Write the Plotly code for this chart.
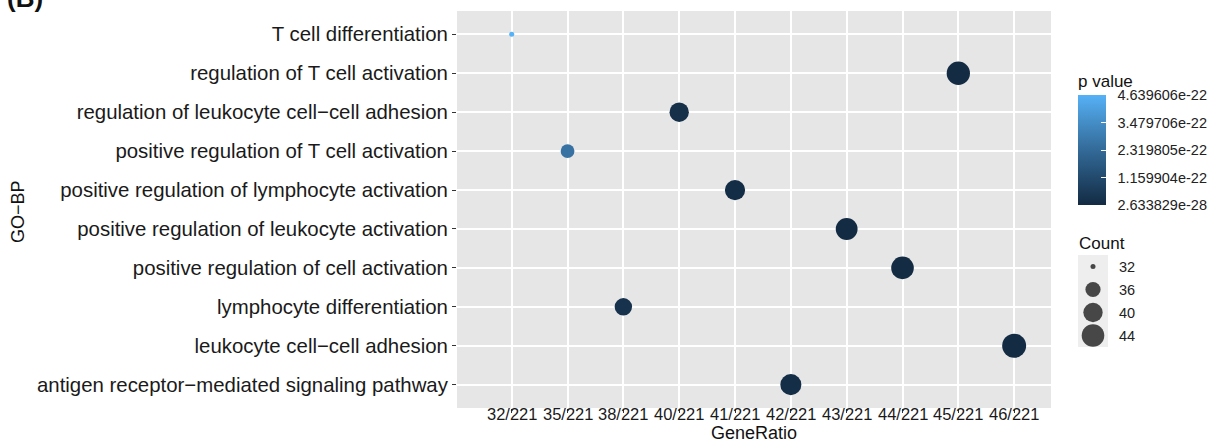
import numpy as np
import plotly.graph_objects as go

# GO biological-process enrichment results
terms = [
    "T cell differentiation",
    "regulation of T cell activation",
    "regulation of leukocyte cell\u2212cell adhesion",
    "positive regulation of T cell activation",
    "positive regulation of lymphocyte activation",
    "positive regulation of leukocyte activation",
    "positive regulation of cell activation",
    "lymphocyte differentiation",
    "leukocyte cell\u2212cell adhesion",
    "antigen receptor\u2212mediated signaling pathway",
]
gene_ratio = ["32/221", "45/221", "40/221", "35/221", "41/221",
              "43/221", "44/221", "38/221", "46/221", "42/221"]
counts = [32, 45, 40, 35, 41, 43, 44, 38, 46, 42]
p_values = [4.639606e-22, 5.0e-27, 2.0e-23, 2.6e-22, 8.0e-24,
            3.0e-25, 2.0e-26, 2.5e-23, 2.633829e-28, 1.2e-23]

ratio_order = ["32/221", "35/221", "38/221", "40/221", "41/221",
               "42/221", "43/221", "44/221", "45/221", "46/221"]

legend_counts = [32, 36, 40, 44]
cbar_ticks = [2.633829e-28, 1.159904e-22, 2.319805e-22, 3.479706e-22, 4.639606e-22]
cbar_labels = ["2.633829e-28", "1.159904e-22", "2.319805e-22", "3.479706e-22", "4.639606e-22"]

W, H = 1230, 443
FONT = "Liberation Sans, Arial, sans-serif"
PAD = "\u00a0\u00a0"

# ggplot-like default gradient (Lab interpolation approximated with stops)
colorscale = [
    [0.0, "#132B43"], [0.25, "#224A6D"], [0.5, "#336A98"],
    [0.75, "#448DC6"], [1.0, "#56B1F7"],
]


def dot_size(c):
    # area-style size scale between the smallest and largest count
    c = np.asarray(c, dtype=float)
    lo, hi = min(counts), max(counts)
    return 5 + 19 * np.sqrt((c - lo) / (hi - lo))


# panel geometry in pixels
px_l, px_r, px_t, px_b = 457, 1051, 11, 408

fig = go.Figure()

fig.add_trace(go.Scatter(
    x=gene_ratio, y=terms, mode="markers",
    marker=dict(
        size=dot_size(counts), color=p_values, colorscale=colorscale,
        cmin=min(p_values), cmax=max(p_values), line=dict(width=0), opacity=1,
        colorbar=dict(
            title=dict(text="p value", side="top",
                       font=dict(family=FONT, size=17, color="#111")),
            x=1078 / W, xanchor="left", xpad=0,
            y=1 - 138 / H, yanchor="middle", ypad=0,
            len=134, lenmode="pixels", thickness=28, thicknessmode="pixels",
            outlinewidth=0, tickmode="array", tickvals=cbar_ticks,
            ticktext=[PAD + t for t in cbar_labels],
            ticks="inside", ticklen=5, tickcolor="white", tickwidth=1,
            tickfont=dict(family=FONT, size=14.5, color="#222"),
        ),
    ),
    showlegend=False, hoverinfo="x+y",
))

# size key for Count
fig.add_trace(go.Scatter(
    x=[0] * len(legend_counts), y=[str(c) for c in legend_counts],
    xaxis="x2", yaxis="y2", mode="markers",
    marker=dict(size=dot_size(legend_counts), color="black", line=dict(width=0)),
    showlegend=False, hoverinfo="skip",
))

# GeneRatio tick labels, set just under the tick marks
xtick_labels = [
    dict(text=r, x=r, xref="x", y=1 - 414 / H, yref="paper",
         xanchor="center", yanchor="middle", showarrow=False,
         font=dict(family=FONT, size=16.5, color="#1a1a1a"))
    for r in ratio_order
]

fig.update_layout(
    width=W, height=H,
    margin=dict(l=0, r=0, t=0, b=0),
    paper_bgcolor="white", plot_bgcolor="#E6E6E6",
    font=dict(family=FONT, color="#111"),
    xaxis=dict(
        domain=[px_l / W, px_r / W], anchor="y",
        type="category", categoryorder="array", categoryarray=ratio_order,
        range=[-0.98, 9.66], showgrid=True, gridcolor="white", gridwidth=1.6,
        zeroline=False, showline=False, ticks="outside", ticklen=4,
        tickcolor="#333", tickwidth=1.2, showticklabels=False, automargin=False,
    ),
    yaxis=dict(
        domain=[1 - px_b / H, 1 - px_t / H], anchor="x",
        type="category", categoryorder="array", categoryarray=terms,
        range=[9.6, -0.6], showgrid=True, gridcolor="white", gridwidth=1.6,
        zeroline=False, showline=False, ticks="outside", ticklen=4,
        tickcolor="#333", tickwidth=1.2,
        tickfont=dict(family=FONT, size=20.4, color="#1a1a1a"), automargin=False,
    ),
    xaxis2=dict(
        domain=[1078 / W, 1108 / W], anchor="y2", range=[-1, 1],
        showgrid=False, zeroline=False, showticklabels=False, showline=False,
    ),
    yaxis2=dict(
        domain=[1 - 347 / H, 1 - 255 / H], anchor="x2", side="right",
        type="category", categoryorder="array",
        categoryarray=[str(c) for c in legend_counts], range=[3.5, -0.5],
        showgrid=False, zeroline=False, showline=False,
        ticks="outside", ticklen=7, tickcolor="rgba(0,0,0,0)",
        tickfont=dict(family=FONT, size=14.5, color="#222"), automargin=False,
    ),
    shapes=[dict(type="rect", xref="x2 domain", yref="y2 domain",
                 x0=0, x1=1, y0=0, y1=1, fillcolor="#EEEEEE",
                 line=dict(width=0), layer="below")],
    annotations=xtick_labels + [
        dict(text="GeneRatio", x=(px_l + px_r) / 2 / W, y=1 - 433 / H,
             xref="paper", yref="paper", xanchor="center", yanchor="middle",
             showarrow=False, font=dict(family=FONT, size=18, color="#111")),
        dict(text="GO\u2212BP", x=18 / W, y=1 - 212 / H, textangle=-90,
             xref="paper", yref="paper", xanchor="center", yanchor="middle",
             showarrow=False, font=dict(family=FONT, size=18, color="#111")),
        dict(text="Count", x=1077 / W, y=1 - 243 / H,
             xref="paper", yref="paper", xanchor="left", yanchor="middle",
             showarrow=False, font=dict(family=FONT, size=17, color="#111")),
        dict(text="<b>(B)</b>", x=5 / W, y=1 - 15 / H,
             xref="paper", yref="paper", xanchor="left", yanchor="bottom",
             showarrow=False, font=dict(family=FONT, size=26, color="#111")),
    ],
)

fig.write_html("out.html")
